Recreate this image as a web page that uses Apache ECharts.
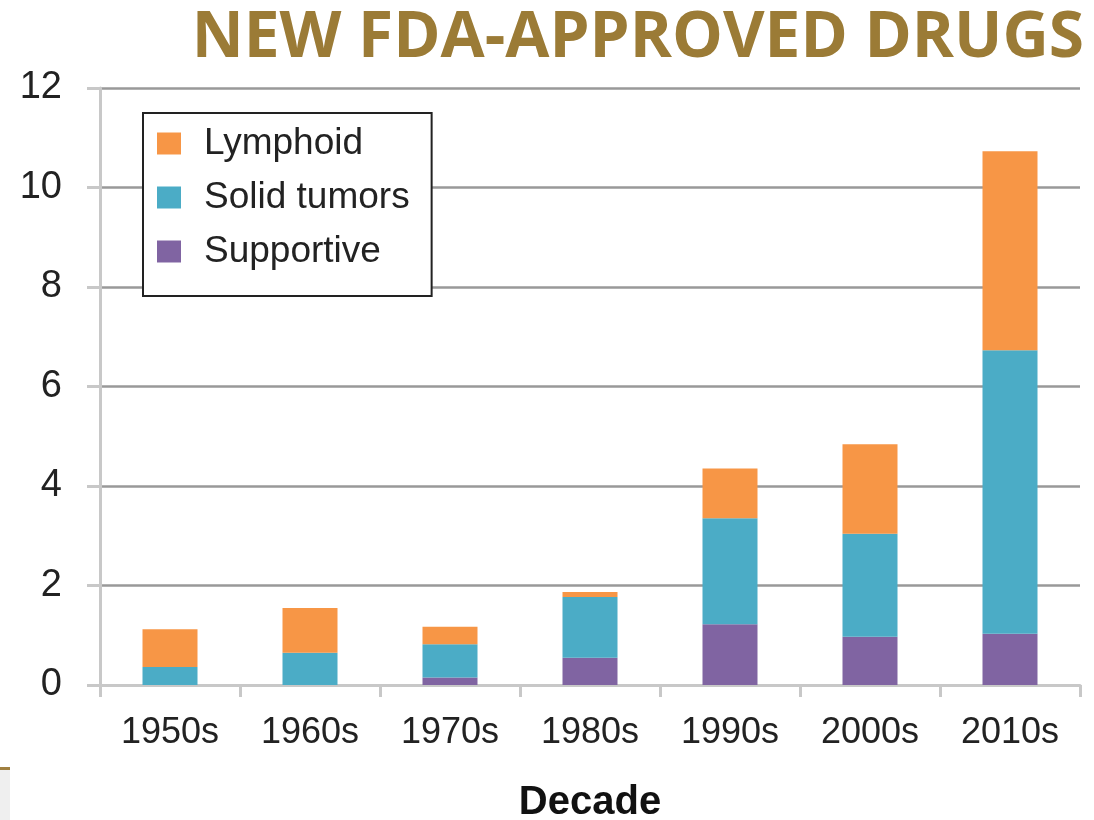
<!DOCTYPE html>
<html>
<head>
<meta charset="utf-8">
<script src="https://cdn.jsdelivr.net/npm/echarts@6/dist/echarts.min.js"></script>
<style>
  html, body { margin: 0; padding: 0; background: #fff; }
  #chart { width: 1094px; height: 820px; }
</style>
</head>
<body>
<div id="chart"></div>
<script>
const decades = ["1950s", "1960s", "1970s", "1980s", "1990s", "2000s", "2010s"];
const supportive = [0, 0, 0.15, 0.55, 1.22, 0.97, 1.03];
const solidTumors = [0.36, 0.65, 0.67, 1.22, 2.13, 2.07, 5.7];
const lymphoid = [0.76, 0.9, 0.35, 0.1, 1.0, 1.8, 4.0];
const yTicks = { min: 0, max: 12, interval: 2 };

const chart = echarts.init(document.getElementById("chart"));

const barSeries = (name, data, color) => ({
  name: name,
  type: "bar",
  stack: "total",
  data: data,
  barWidth: 55,
  itemStyle: { color: color },
  emphasis: { disabled: true }
});

chart.setOption({
  animation: false,
  title: {
    text: "NEW FDA-APPROVED DRUGS",
    right: 5,
    top: 2,
    textStyle: {
      fontFamily: "Open Sans",
      fontWeight: "bold",
      fontSize: 64,
      color: "#9b7b36"
    }
  },
  legend: {
    orient: "vertical",
    left: 143,
    top: 113,
    data: ["Lymphoid", "Solid tumors", "Supportive"],
    icon: "rect",
    itemWidth: 24,
    itemHeight: 22,
    itemGap: 17,
    padding: [12, 22, 26, 14],
    borderColor: "#222",
    borderWidth: 2,
    backgroundColor: "#fff",
    textStyle: {
      fontFamily: "Liberation Sans",
      fontSize: 37,
      lineHeight: 36,
      color: "#222",
      padding: [0, 0, 0, 18]
    }
  },
  grid: { left: 100, right: 14, top: 88, bottom: 135, containLabel: false, outerBoundsMode: "none" },
  xAxis: {
    type: "category",
    data: decades,
    name: "Decade",
    nameLocation: "middle",
    nameGap: 98,
    nameTextStyle: {
      fontFamily: "Liberation Sans",
      fontWeight: "bold",
      fontSize: 40,
      color: "#111"
    },
    axisLine: { lineStyle: { color: "#c8c8c8", width: 3 } },
    axisTick: { show: true, length: 12, lineStyle: { color: "#c8c8c8", width: 3 } },
    axisLabel: {
      fontFamily: "Liberation Sans",
      fontSize: 36,
      color: "#222",
      margin: 30
    }
  },
  yAxis: {
    type: "value",
    min: yTicks.min,
    max: yTicks.max,
    interval: yTicks.interval,
    axisLine: { show: true, lineStyle: { color: "#c8c8c8", width: 3 } },
    axisTick: { show: true, length: 13, lineStyle: { color: "#c8c8c8", width: 3 } },
    splitLine: { lineStyle: { color: "#999", width: 2.5 } },
    axisLabel: {
      fontFamily: "Liberation Sans",
      fontSize: 38,
      color: "#222",
      margin: 38
    }
  },
  graphic: [
    { type: "rect", left: 0, top: 770, shape: { width: 10, height: 50 }, style: { fill: "#efefef" } },
    { type: "rect", left: 0, top: 767, shape: { width: 10, height: 3 }, style: { fill: "#a08040" } }
  ],
  series: [
    barSeries("Supportive", supportive, "#8064a2"),
    barSeries("Solid tumors", solidTumors, "#4bacc6"),
    barSeries("Lymphoid", lymphoid, "#f79646")
  ]
});
</script>
</body>
</html>
